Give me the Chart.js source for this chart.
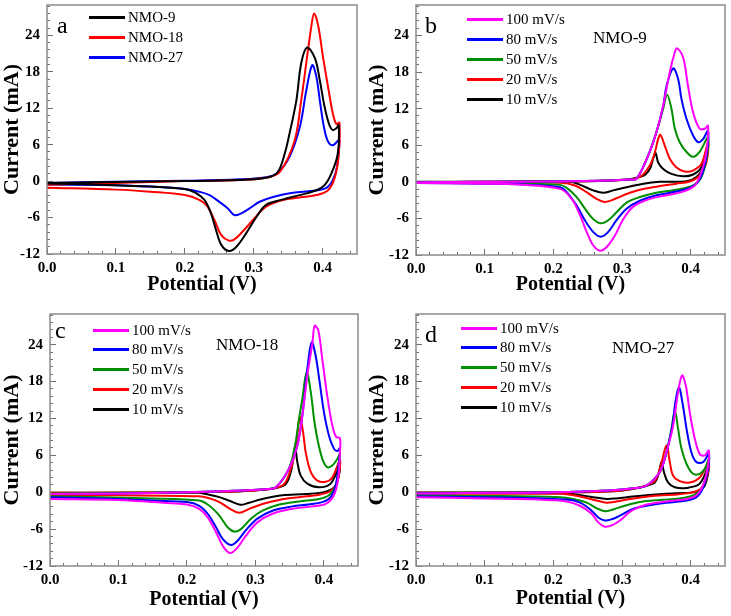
<!DOCTYPE html>
<html>
<head>
<meta charset="utf-8">
<script src="https://cdn.jsdelivr.net/npm/chart.js@4.4.1/dist/chart.umd.min.js"></script>
<style>
body{margin:0;background:#fff}
#quadro{position:relative;width:731px;height:616px;background:#fff;overflow:hidden;font-family:"Liberation Serif","Times New Roman",serif;color:#000}
canvas{position:absolute}
.leg{position:absolute;display:flex;align-items:center;height:20px;font-size:15px;white-space:nowrap}
.leg i{display:inline-block;width:36px;height:3px;margin-right:3px}
.txt{position:absolute;white-space:nowrap;line-height:1}
</style>
</head>
<body>
<div id="quadro">
<canvas id="ga" width="365" height="305" style="left:0;top:0"></canvas>
<canvas id="gb" width="366" height="305" style="left:365px;top:0"></canvas>
<canvas id="gc" width="365" height="311" style="left:0;top:305px"></canvas>
<canvas id="gd" width="366" height="311" style="left:365px;top:305px"></canvas>
</div>
<script>

// [potential V, current mA], anodic sweep then cathodic sweep

let aNmo9=[[0,-0.3],[0.1,-0.15],[0.2,0],[0.28,0.2],[0.32,0.6],[0.335,1.5],[0.345,4.5],[0.352,7.8],[0.362,13.3],[0.369,19.4],[0.3775,22.0],[0.389,20.2],[0.396,16.6],[0.403,12.2],[0.41,9.2],[0.415,8.4],[0.42,8.7],[0.4235,9.2],
[0.422,4.5],[0.413,1.3],[0.403,-0.66],[0.391,-1.5],[0.367,-2.3],[0.343,-3.0],[0.318,-3.9],[0.304,-5.9],[0.289,-8.6],[0.275,-10.8],[0.264,-11.5],[0.253,-10.5],[0.2455,-8.1],[0.238,-5.3],[0.2285,-3.1],[0.215,-1.9],[0.2,-1.3],[0.15,-0.9],[0.1,-0.66],[0,-0.4]]

let aNmo18=[[0,-0.6],[0.1,-0.3],[0.2,0],[0.28,0.2],[0.32,0.6],[0.338,1.5],[0.3595,6.7],[0.369,13.3],[0.3775,20.4],[0.384,25.7],[0.3877,27.6],[0.3935,25.7],[0.4007,20.4],[0.408,15.5],[0.415,11.1],[0.42,9.4],[0.4245,9.6],
[0.4235,4.5],[0.418,0.7],[0.408,-1.5],[0.391,-2.3],[0.367,-2.7],[0.3425,-3.1],[0.318,-4.2],[0.299,-6.4],[0.284,-8.3],[0.272,-9.6],[0.264,-9.8],[0.253,-8.9],[0.243,-6.4],[0.233,-4.2],[0.221,-3.1],[0.2,-2.3],[0.15,-1.75],[0.1,-1.4],[0,-1.1]]

let aNmo27=[[0,-0.3],[0.1,-0.1],[0.2,0.05],[0.28,0.3],[0.32,0.7],[0.335,1.4],[0.352,4.0],[0.367,8.9],[0.3765,15.0],[0.385,19.1],[0.391,17.2],[0.396,13.3],[0.402,8.9],[0.408,6.5],[0.415,5.9],[0.421,6.5],[0.4245,6.8],
[0.421,2.4],[0.415,0.2],[0.4057,-1.1],[0.386,-1.6],[0.357,-1.9],[0.328,-2.6],[0.3086,-3.4],[0.294,-4.5],[0.282,-5.3],[0.272,-5.6],[0.2625,-4.5],[0.25,-3.4],[0.236,-2.3],[0.221,-1.75],[0.2,-1.3],[0.15,-0.9],[0.1,-0.66],[0,-0.55]]

let b100=[[0,-0.1],[0.1,0],[0.2,0.05],[0.28,0.2],[0.31,0.4],[0.321,0.5],[0.338,4.3],[0.35,8.1],[0.36,12.5],[0.3696,18.0],[0.377,21.3],[0.38,21.9],[0.389,20.4],[0.396,15.8],[0.4035,11.4],[0.413,8.7],[0.4205,8.7],[0.4253,9.2],
[0.423,4.9],[0.4157,1.6],[0.406,-0.6],[0.389,-1.6],[0.365,-2.2],[0.3405,-2.8],[0.316,-4.1],[0.302,-6.1],[0.2897,-8.8],[0.2776,-10.7],[0.268,-11.3],[0.258,-10.4],[0.2485,-8.2],[0.239,-5.5],[0.2267,-2.8],[0.21,-1.15],[0.15,-0.45],[0.1,-0.3],[0,-0.2]]

let b80=[[0,-0.1],[0.1,0],[0.2,0.05],[0.28,0.2],[0.31,0.4],[0.321,0.5],[0.338,4.3],[0.35,8.1],[0.36,12.5],[0.365,15.8],[0.3745,18.6],[0.3817,16.9],[0.3866,13.6],[0.394,10.3],[0.4035,7.6],[0.411,6.5],[0.418,7.0],[0.4253,8.4],
[0.423,4.3],[0.4157,1.0],[0.4035,-0.7],[0.379,-1.6],[0.35,-2.2],[0.326,-3.1],[0.3067,-4.4],[0.292,-6.3],[0.28,-8.2],[0.269,-9.0],[0.258,-8.2],[0.246,-6.3],[0.234,-3.9],[0.2195,-1.7],[0.21,-0.9],[0.15,-0.4],[0.1,-0.3],[0,-0.2]]

let b50=[[0,-0.1],[0.1,0],[0.2,0.05],[0.28,0.2],[0.31,0.4],[0.321,0.5],[0.338,4.3],[0.35,8.1],[0.36,12.0],[0.3657,14.3],[0.372,12.0],[0.377,8.7],[0.384,6.5],[0.394,4.9],[0.4035,4.1],[0.413,4.9],[0.4253,7.3],
[0.423,3.8],[0.4157,0.8],[0.4035,-0.6],[0.379,-1.3],[0.35,-1.8],[0.326,-2.5],[0.3067,-3.4],[0.292,-5.0],[0.28,-6.3],[0.269,-6.8],[0.258,-6.1],[0.246,-4.4],[0.234,-2.5],[0.2195,-1.0],[0.21,-0.5],[0.15,-0.3],[0,-0.15]]

let b20=[[0,-0.05],[0.1,0],[0.2,0.05],[0.3,0.3],[0.326,0.8],[0.3405,2.7],[0.348,4.9],[0.3526,7.0],[0.356,7.7],[0.3624,5.9],[0.3696,3.8],[0.379,2.4],[0.391,1.7],[0.4035,1.85],[0.4157,2.95],[0.4253,6.5],
[0.423,3.2],[0.413,1.0],[0.3986,0.05],[0.379,-0.3],[0.35,-0.8],[0.326,-1.3],[0.3067,-2.0],[0.292,-2.7],[0.275,-3.3],[0.263,-2.8],[0.2485,-1.7],[0.2315,-0.6],[0.21,-0.15],[0.1,-0.1],[0,-0.1]]

let b10=[[0,0],[0.2,0.05],[0.3,0.3],[0.331,1.0],[0.3405,2.1],[0.3454,3.8],[0.349,4.7],[0.3526,3.2],[0.36,2.1],[0.372,1.3],[0.389,0.9],[0.4035,1.2],[0.4157,2.4],[0.4253,5.9],
[0.4205,2.7],[0.4084,0.8],[0.394,0.1],[0.355,0],[0.331,-0.3],[0.3067,-0.9],[0.287,-1.4],[0.2727,-1.8],[0.258,-1.4],[0.239,-0.5],[0.224,0],[0.1,0],[0,0]]

let c100=[[0,-0.3],[0.1,-0.2],[0.2,0],[0.28,0.3],[0.315,0.5],[0.33,0.8],[0.349,3.8],[0.3614,7.6],[0.3687,12.5],[0.376,19.0],[0.3835,24.4],[0.3867,27.1],[0.392,26.3],[0.3978,21.7],[0.405,15.7],[0.4124,10.9],[0.418,9.0],[0.4236,8.8],
[0.4236,6.5],[0.421,2.2],[0.4148,-0.5],[0.4028,-1.9],[0.383,-2.3],[0.354,-2.7],[0.325,-3.5],[0.303,-4.9],[0.286,-7.1],[0.274,-9.0],[0.263,-9.9],[0.2523,-8.7],[0.2426,-6.5],[0.2304,-4.1],[0.218,-2.7],[0.2,-2.0],[0.15,-1.6],[0.1,-1.25],[0,-1.1]]

let c80=[[0,-0.3],[0.1,-0.2],[0.2,0],[0.28,0.3],[0.315,0.5],[0.33,0.8],[0.349,3.8],[0.3614,7.6],[0.3687,12.5],[0.376,20.1],[0.3823,24.4],[0.388,22.3],[0.394,17.9],[0.4003,13.0],[0.4076,9.2],[0.4148,7.1],[0.4197,6.7],[0.4236,7.2],
[0.4221,4.9],[0.418,1.4],[0.41,-0.8],[0.398,-1.6],[0.3775,-2.0],[0.354,-2.3],[0.325,-3.0],[0.303,-4.3],[0.286,-6.2],[0.274,-7.9],[0.2644,-8.6],[0.2523,-7.6],[0.2426,-5.7],[0.2304,-3.5],[0.218,-2.2],[0.2,-1.6],[0.15,-1.35],[0.1,-1.1],[0,-0.8]]

let c50=[[0,-0.2],[0.1,-0.1],[0.2,0],[0.28,0.3],[0.315,0.5],[0.33,0.8],[0.349,3.8],[0.358,7.6],[0.3639,12.0],[0.3687,15.2],[0.375,19.5],[0.381,16.3],[0.3857,12.0],[0.3906,8.7],[0.398,5.4],[0.405,4.1],[0.4124,4.35],[0.4197,5.4],[0.4236,6.25],
[0.4221,4.35],[0.4173,1.1],[0.4076,-0.5],[0.393,-1.1],[0.364,-1.5],[0.335,-2.0],[0.3105,-3.0],[0.2936,-4.3],[0.279,-6.0],[0.2693,-6.4],[0.2595,-5.7],[0.2474,-3.8],[0.2329,-2.2],[0.218,-1.35],[0.15,-1.0],[0,-0.65]]

let c20=[[0,-0.1],[0.1,-0.05],[0.2,0],[0.3,0.3],[0.3396,1.1],[0.3518,3.8],[0.359,7.1],[0.365,12.2],[0.3697,9.8],[0.3736,6.5],[0.381,3.3],[0.3906,1.9],[0.4028,1.7],[0.4124,2.4],[0.4236,5.2],
[0.4197,1.6],[0.41,0.2],[0.393,-0.4],[0.364,-0.8],[0.335,-1.25],[0.3105,-1.9],[0.291,-2.7],[0.2766,-3.35],[0.2645,-2.8],[0.2474,-1.6],[0.2329,-1.0],[0.218,-0.65],[0.1,-0.5],[0,-0.5]]

let c10=[[0,-0.1],[0.2,0],[0.3,0.3],[0.342,1.1],[0.3518,3.3],[0.358,7.3],[0.3614,4.9],[0.3663,2.7],[0.376,1.4],[0.393,0.8],[0.41,1.4],[0.4236,4.35],
[0.4173,1.1],[0.4028,0.1],[0.3736,-0.3],[0.3396,-0.5],[0.3105,-1.1],[0.291,-1.7],[0.278,-2.05],[0.2669,-1.6],[0.2474,-0.8],[0.228,-0.3],[0.218,-0.1],[0,-0.1]]

let d100=[[0,-0.2],[0.1,-0.1],[0.2,0],[0.28,0.3],[0.32,0.7],[0.3358,1.1],[0.355,3.3],[0.3648,6.5],[0.3744,10.8],[0.3817,16.3],[0.3875,19.0],[0.393,17.3],[0.3987,13.0],[0.406,8.7],[0.4132,6.2],[0.4205,6.0],[0.4263,6.8],
[0.4253,4.35],[0.418,1.1],[0.4084,-0.5],[0.394,-1.1],[0.3648,-1.5],[0.3358,-2.0],[0.314,-3.0],[0.297,-4.6],[0.285,-5.4],[0.275,-5.6],[0.2654,-4.9],[0.2558,-3.5],[0.2388,-2.2],[0.2195,-1.5],[0.2,-1.3],[0.15,-1.1],[0.1,-1.0],[0,-0.8]]

let d80=[[0,-0.2],[0.1,-0.1],[0.2,0],[0.28,0.3],[0.32,0.7],[0.3358,1.1],[0.355,3.3],[0.3648,6.5],[0.3744,11.5],[0.377,14.1],[0.3827,17.1],[0.388,14.6],[0.394,10.3],[0.401,6.5],[0.4084,4.9],[0.418,4.9],[0.4263,6.2],
[0.4253,3.8],[0.418,0.7],[0.4084,-0.8],[0.394,-1.35],[0.3648,-1.7],[0.3358,-2.2],[0.314,-2.8],[0.297,-3.8],[0.285,-4.4],[0.275,-4.6],[0.2654,-4.1],[0.2558,-3.0],[0.2388,-1.7],[0.2195,-1.2],[0.15,-0.9],[0,-0.7]]

let d50=[[0,-0.15],[0.1,-0.05],[0.2,0],[0.28,0.3],[0.32,0.7],[0.3358,1.1],[0.355,3.3],[0.3648,6.5],[0.372,10.3],[0.377,13.3],[0.3817,10.3],[0.3866,7.1],[0.394,4.6],[0.4035,3.0],[0.4132,3.0],[0.4205,3.8],[0.4263,5.4],
[0.423,3.0],[0.4157,0.55],[0.4035,-0.5],[0.3842,-1.0],[0.355,-1.25],[0.326,-1.6],[0.304,-2.2],[0.287,-2.8],[0.275,-3.1],[0.263,-2.6],[0.2485,-1.7],[0.229,-1.1],[0.21,-0.8],[0.1,-0.6],[0,-0.55]]

let d20=[[0,-0.1],[0.2,0],[0.3,0.3],[0.3454,1.6],[0.355,3.8],[0.3648,7.6],[0.3696,4.9],[0.3744,2.7],[0.3842,1.8],[0.3987,1.6],[0.4132,2.4],[0.4263,4.9],
[0.423,2.2],[0.4132,0.45],[0.3987,-0.1],[0.3744,-0.4],[0.3405,-0.65],[0.3115,-1.1],[0.292,-1.5],[0.2776,-1.7],[0.263,-1.35],[0.2436,-0.8],[0.2243,-0.4],[0.21,-0.25],[0,-0.25]]

let d10=[[0,-0.05],[0.2,0],[0.3,0.3],[0.3454,1.4],[0.3526,2.7],[0.3575,4.9],[0.361,3.3],[0.367,1.6],[0.377,0.8],[0.394,0.7],[0.4132,1.4],[0.4263,4.35],
[0.4205,1.1],[0.4084,0.1],[0.379,-0.15],[0.3454,-0.4],[0.316,-0.7],[0.292,-1.0],[0.2776,-1.1],[0.258,-0.8],[0.234,-0.4],[0.21,-0.15],[0,-0.1]]

let amostras=['NMO-9','NMO-18','NMO-27']
let taxas=['100 mV/s','80 mV/s','50 mV/s','20 mV/s','10 mV/s']
let coresAmostras=['#000000','#ff0000','#0000ff']
let coresTaxas=['#ff00ff','#0000ff','#008f00','#ff0000','#000000']

let serif='"Liberation Serif","Times New Roman",serif'

let moldura={
id:'moldura',
afterDraw(c){
let a=c.chartArea
let ctx=c.ctx
ctx.save()
ctx.strokeStyle='#8a8a8a'
ctx.lineWidth=1.5
ctx.strokeRect(a.left,a.top,a.right-a.left,a.bottom-a.top)
ctx.restore()
}
}

function eixoMenor(pos,min,max,passo){
return{
type:'linear',
position:pos,
min:min,
max:max,
weight:-10,
afterFit:s=>{if(pos==='bottom'){s.height=0}else{s.width=0};s.paddingTop=0;s.paddingBottom=0;s.paddingLeft=0;s.paddingRight=0},
ticks:{display:false,stepSize:passo,includeBounds:false},
grid:{drawOnChartArea:false,tickLength:-3,tickColor:'#707070',tickWidth:1},
border:{display:false}
}
}

function montarGrafico(id,curvas,cores,nomes,b){

new Chart(document.getElementById(id),{
type:'scatter',
data:{
datasets:curvas.map((c,i)=>({
label:nomes[i],
data:c.map(p=>({x:p[0],y:p[1]})),
borderColor:cores[i],
backgroundColor:cores[i],
borderWidth:2,
pointRadius:0,
showLine:true,
tension:0.35
}))
},
options:{
responsive:false,
animation:false,
layout:{padding:{left:0,top:b.top,right:b.right,bottom:0}},
plugins:{legend:{display:false},tooltip:{enabled:false}},
scales:{
x:{
type:'linear',
position:'bottom',
min:0,
max:0.45,
afterFit:s=>{s.height=b.xh;s.paddingLeft=0;s.paddingRight=0},
ticks:{stepSize:0.1,includeBounds:false,autoSkip:false,maxRotation:0,padding:11,color:'#000',font:{family:serif,size:15,weight:'bold'},callback:v=>v.toFixed(1)},
grid:{drawOnChartArea:false,tickLength:-6,tickColor:'#707070',tickWidth:1},
border:{display:false},
title:{display:true,text:'Potential (V)',color:'#000',font:{family:serif,size:20,weight:'bold',lineHeight:1},padding:{top:0,bottom:b.tx}}
},
xm:eixoMenor('bottom',0,0.45,0.02),
y:{
type:'linear',
position:'left',
min:-12,
max:29,
afterFit:s=>{s.width=b.yw;s.paddingTop=0;s.paddingBottom=0},
ticks:{stepSize:6,includeBounds:false,padding:13,color:'#000',font:{family:serif,size:15,weight:'bold'}},
grid:{drawOnChartArea:false,tickLength:-6,tickColor:'#707070',tickWidth:1},
border:{display:false},
title:{display:true,text:'Current (mA)',color:'#000',font:{family:serif,size:22,weight:'bold',lineHeight:1},padding:{top:b.ty,bottom:0}}
},
ym:eixoMenor('left',-12,29,1.2)
}
},
plugins:[moldura]
})

}

montarGrafico('ga',[aNmo9,aNmo18,aNmo27],coresAmostras,amostras,{top:5,right:8,xh:51,yw:47,tx:10,ty:1.5})
montarGrafico('gb',[b100,b80,b50,b20,b10],coresTaxas,taxas,{top:5,right:6,xh:50,yw:51,tx:10,ty:1.5})
montarGrafico('gc',[c100,c80,c50,c20,c10],coresTaxas,taxas,{top:9,right:7,xh:50,yw:50,tx:6,ty:1.5})
montarGrafico('gd',[d100,d80,d50,d20,d10],coresTaxas,taxas,{top:9,right:6,xh:50,yw:51,tx:7,ty:1.5})

let quadro=document.getElementById('quadro')

function legenda(x,y0,passo,nomes,cores){
nomes.forEach((n,i)=>{
let d=document.createElement('div')
d.className='leg'
d.style.left=x+'px'
d.style.top=(y0+i*passo-10)+'px'
d.innerHTML=`<i style="background:${cores[i]}"></i>${n}`
quadro.appendChild(d)
})
}

function texto(t,x,y,tam){
let d=document.createElement('div')
d.className='txt'
d.style.left=x+'px'
d.style.top=y+'px'
d.style.fontSize=tam+'px'
d.textContent=t
quadro.appendChild(d)
}

legenda(89,17,20,amostras,coresAmostras)
legenda(467,19,20,taxas,coresTaxas)
legenda(93,330,19.8,taxas,coresTaxas)
legenda(461,328,19.8,taxas,coresTaxas)

texto('a',57,13,24)
texto('b',425,13,24)
texto('c',55,318,24)
texto('d',425,322,24)

texto('NMO-9',593,29,17)
texto('NMO-18',216,336,17)
texto('NMO-27',612,339,17)

</script>
</body>
</html>
